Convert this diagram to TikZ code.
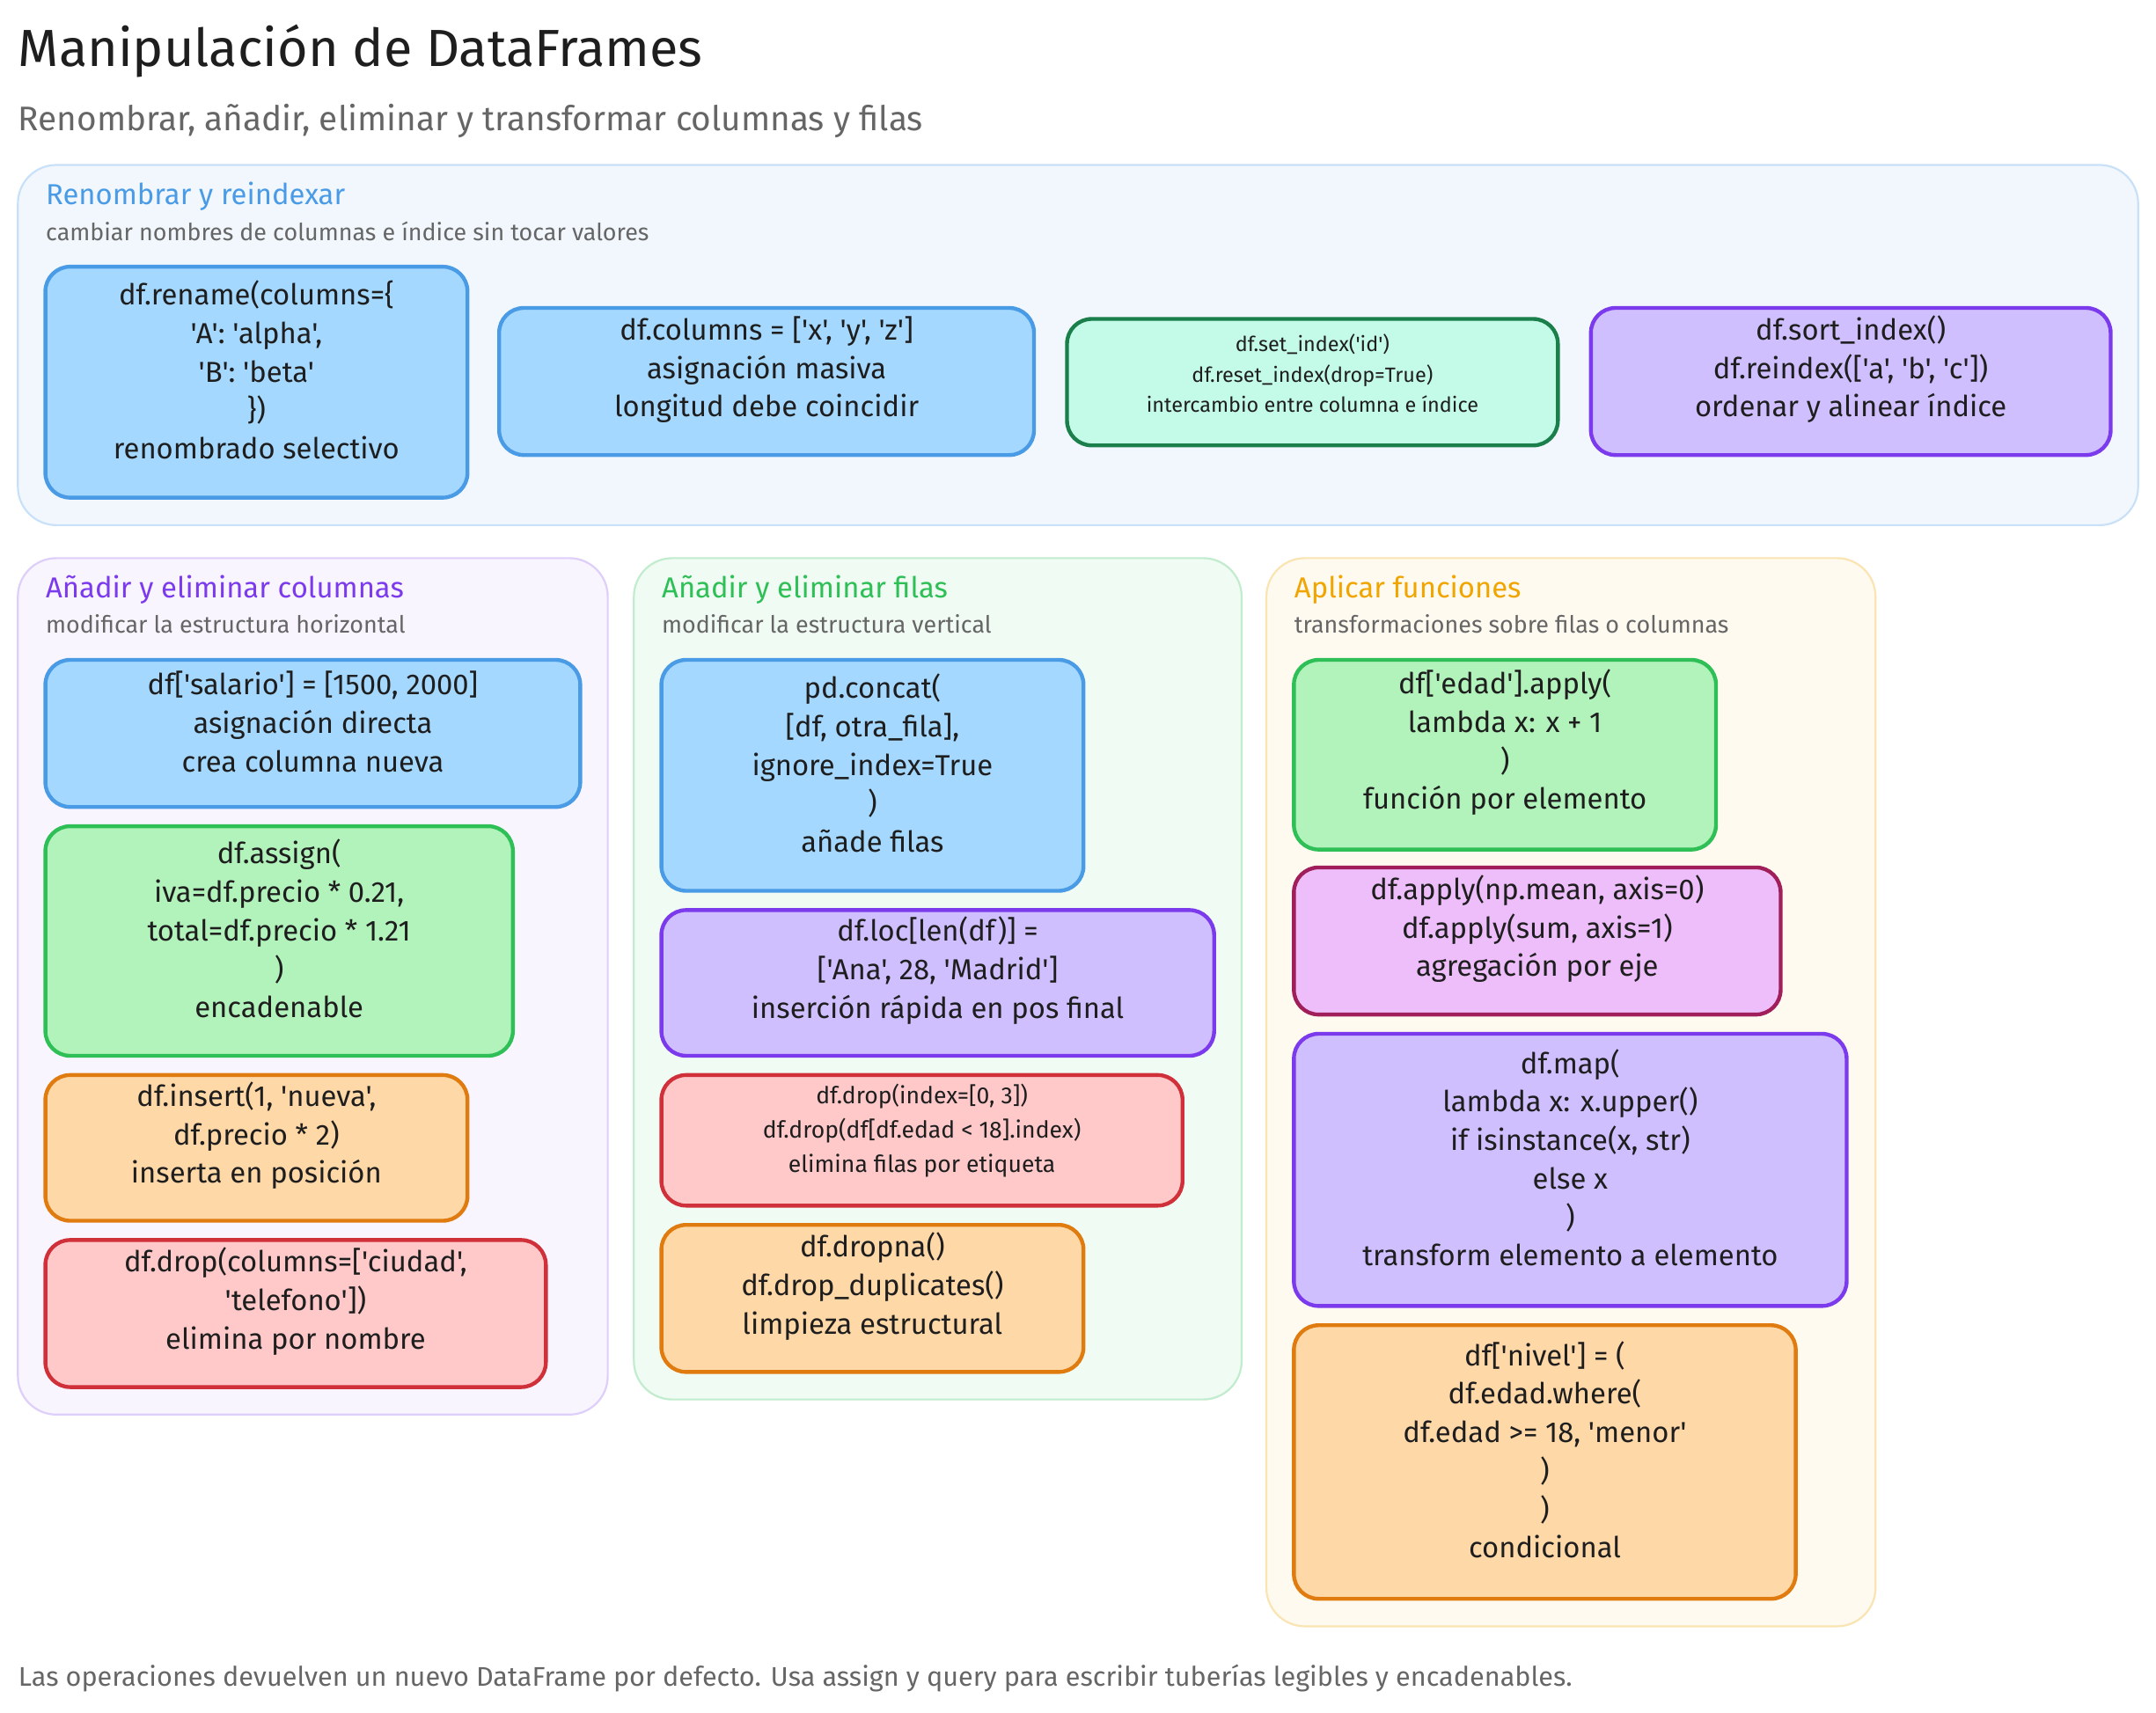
\documentclass[tikz,border=0pt]{standalone}
\usepackage{fontspec}
\setmainfont{Fira Sans}[Ligatures=TeXOff]
\usetikzlibrary{fit}
\newcommand\q{'}
\definecolor{bF}{HTML}{A5D8FF}\definecolor{bD}{HTML}{4A9BE6}
\definecolor{tF}{HTML}{C3FAE8}\definecolor{tD}{HTML}{1A7F4B}
\definecolor{pF}{HTML}{D0BFFF}\definecolor{pD}{HTML}{7C3AED}
\definecolor{gF}{HTML}{B2F2BB}\definecolor{gD}{HTML}{2FBF57}
\definecolor{oF}{HTML}{FFD8A8}\definecolor{oD}{HTML}{E07B10}
\definecolor{rF}{HTML}{FFC9C9}\definecolor{rD}{HTML}{D0303A}
\definecolor{mF}{HTML}{EEBEFA}\definecolor{mD}{HTML}{A01E5A}
\definecolor{txt}{HTML}{1E1E1E}\definecolor{gray1}{HTML}{666666}
\definecolor{yT}{HTML}{F0A500}
\tikzset{
 box/.style={draw=#1D,fill=#1F,line width=1.4pt,rounded corners=9pt,inner sep=0pt,align=center,font=\fontsize{10.5}{14}\selectfont,text=txt},
 sbox/.style={box=#1,font=\fontsize{7.5}{11}\selectfont},
 grp/.style={draw=#1,line width=0.7pt,rounded corners=14pt},
 gtitle/.style={anchor=west,inner sep=0pt,font=\fontsize{10.5}{12}\selectfont},
 gsub/.style={anchor=west,inner sep=0pt,font=\fontsize{8.6}{10}\selectfont,text=gray1}
}
\begin{document}
\begin{tikzpicture}[x=0.5pt,y=-0.5pt]
\useasboundingbox[fill=white] (0,0) rectangle (1568,1246);
\node[anchor=west,inner sep=0pt,font=\fontsize{19}{21}\selectfont,text=txt] (title) at (13,37) {Manipulación de DataFrames};
\node[anchor=west,inner sep=0pt,font=\fontsize{12.4}{14}\selectfont,text=gray1] (sub) at (13,88) {Renombrar, añadir, eliminar y transformar columnas y filas};
% group 1
\path[grp=bD!30,fill=bD!8] (13,120) rectangle (1555,382);
\node[gtitle,text=bD] (g1t) at (33,143) {Renombrar y reindexar};
\node[gsub] (g1s) at (33,168) {cambiar nombres de columnas e índice sin tocar valores};
\node[box=b,fit={(33,194) (340,362)}] (a1) {df.rename(columns=\{\\ \q A\q: \q alpha\q,\\ \q B\q: \q beta\q\\ \})\\ renombrado selectivo};
\node[box=b,fit={(363,224) (752,331)}] (a2) {df.columns = [\q x\q, \q y\q, \q z\q]\\ asignación masiva\\ longitud debe coincidir};
\node[sbox=t,fit={(776,232) (1133,324)}] (a3) {df.set\_index(\q id\q)\\ df.reset\_index(drop=True)\\ intercambio entre columna e índice};
\node[box=p,fit={(1157,224) (1535,331)}] (a4) {df.sort\_index()\\ df.reindex([\q a\q, \q b\q, \q c\q])\\ ordenar y alinear índice};
% group 2
\path[grp=pD!25,fill=pD!5] (13,406) rectangle (442,1029);
\node[gtitle,text=pD] (g2t) at (33,429) {Añadir y eliminar columnas};
\node[gsub] (g2s) at (33,454) {modificar la estructura horizontal};
\node[box=b,fit={(33,480) (422,587)}] (b1) {df[\q salario\q] = [1500, 2000]\\ asignación directa\\ crea columna nueva};
\node[box=g,fit={(33,601) (373,768)}] (b2) {df.assign(\\ iva=df.precio * 0.21,\\ total=df.precio * 1.21\\ )\\ encadenable};
\node[box=o,fit={(33,782) (340,888)}] (b3) {df.insert(1, \q nueva\q,\\ df.precio * 2)\\ inserta en posición};
\node[box=r,fit={(33,902) (397,1009)}] (b4) {df.drop(columns=[\q ciudad\q,\\ \q telefono\q])\\ elimina por nombre};
% group 3
\path[grp=gD!30,fill=gD!7] (461,406) rectangle (903,1018);
\node[gtitle,text=gD] (g3t) at (481,429) {Añadir y eliminar filas};
\node[gsub] (g3s) at (481,454) {modificar la estructura vertical};
\node[box=b,fit={(481,480) (788,648)}] (c1) {pd.concat(\\{}[df, otra\_fila],\\ ignore\_index=True\\ )\\ añade filas};
\node[box=p,fit={(481,662) (883,768)}] (c2) {df.loc[len(df)] =\\{}[\q Ana\q, 28, \q Madrid\q]\\ inserción rápida en pos final};
\node[box=r,fit={(481,782) (860,877)},font=\fontsize{8.5}{12.5}\selectfont] (c3) {df.drop(index=[0, 3])\\ df.drop(df[df.edad < 18].index)\\ elimina filas por etiqueta};
\node[box=o,fit={(481,891) (788,998)}] (c4) {df.dropna()\\ df.drop\_duplicates()\\ limpieza estructural};
% group 4
\path[grp=yT!30,fill=yT!6] (921,406) rectangle (1364,1183);
\node[gtitle,text=yT] (g4t) at (941,429) {Aplicar funciones};
\node[gsub] (g4s) at (941,454) {transformaciones sobre filas o columnas};
\node[box=g,fit={(941,480) (1248,618)}] (d1) {df[\q edad\q].apply(\\ lambda x: x + 1\\ )\\ función por elemento};
\node[box=m,fit={(941,631) (1295,738)}] (d2) {df.apply(np.mean, axis=0)\\ df.apply(sum, axis=1)\\ agregación por eje};
\node[box=p,fit={(941,752) (1343,950)}] (d3) {df.map(\\ lambda x: x.upper()\\ if isinstance(x, str)\\ else x\\ )\\ transform elemento a elemento};
\node[box=o,fit={(941,964) (1306,1163)}] (d4) {df[\q nivel\q] = (\\ df.edad.where(\\ df.edad >= 18, \q menor\q\\ )\\ )\\ condicional};
\node[anchor=west,inner sep=0pt,font=\fontsize{9.8}{11}\selectfont,text=gray1] (foot) at (13,1221) {Las operaciones devuelven un nuevo DataFrame por defecto. Usa assign y query para escribir tuberías legibles y encadenables.};
\end{tikzpicture}
\end{document}
